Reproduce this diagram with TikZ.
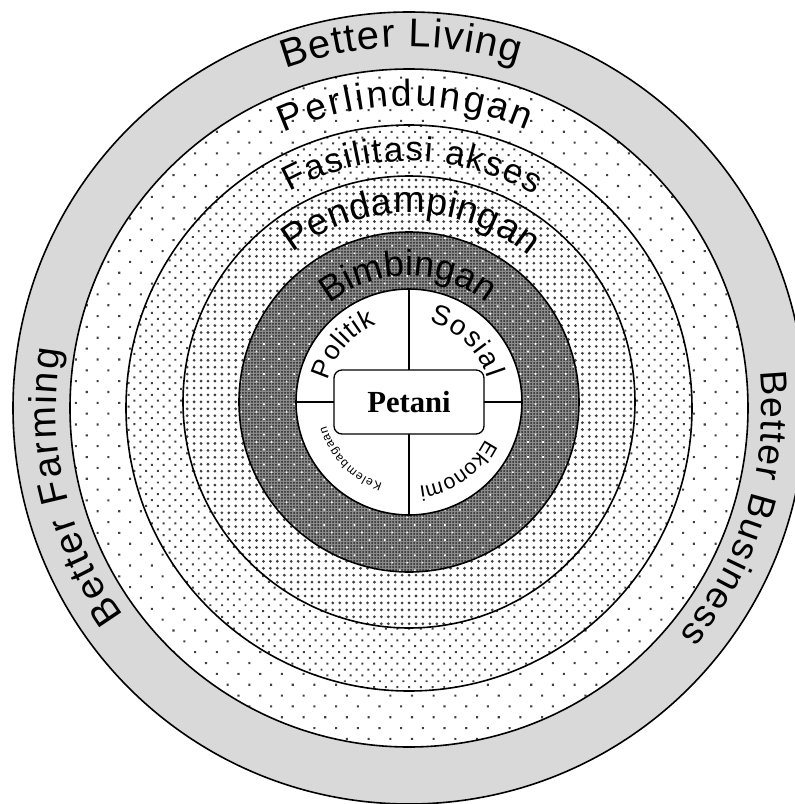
\documentclass[tikz,border=0pt]{standalone}
\usepackage{fontspec}
\setmainfont{Liberation Sans}
\newfontfamily\petanifont{Liberation Serif}
\usetikzlibrary{decorations.text,patterns.meta}

% text bent along a clockwise arc: centre, radius, from, to, size, text
\newcommand{\arctext}[6]{%
  \path[decorate,decoration={text along path,text align=fit to path,
      text={|\fontsize{#5}{#5}\selectfont|#6}}]
    (#1) ++(#3:#2) arc[start angle=#3,end angle=#4,radius=#2];}

\begin{document}
\begin{tikzpicture}[x=0.75pt,y=0.75pt,
    rim/.style={line width=1.2pt},
    split/.style={line width=0.8pt},
    box/.style={draw,line width=1pt,rounded corners=6pt,fill=white,
      minimum width=112.5pt,minimum height=48pt,
      font=\petanifont\bfseries\fontsize{23}{23}\selectfont}]
  \clip (-409,-396) rectangle (386,408);
  \coordinate (O) at (0,0);   % centre of the three outer rings
  \coordinate (ci) at (0,6);  % centre of the inner rings
  % rings, from outside in
  \fill[black!15] (O) circle[radius=396];
  \fill[white] (O) circle[radius=339];
  \fill[pattern={Dots[angle=45,distance=11.5pt,radius=1.1pt]},pattern color=black!75]
    (O) circle[radius=339];
  \fill[white] (O) circle[radius=283];
  \fill[pattern={Dots[angle=45,distance=6.2pt,radius=1.05pt]},pattern color=black!75]
    (O) circle[radius=283];
  \fill[white] (ci) circle[radius=226];
  \fill[pattern={Dots[distance=5.2pt,radius=1.15pt]},pattern color=black!75]
    (ci) circle[radius=226];
  \fill[black!45] (ci) circle[radius=170];
  \fill[pattern={Dots[distance=2.25pt,radius=0.75pt]},pattern color=black!85]
    (ci) circle[radius=170];
  \fill[pattern={Dots[angle=45,distance=8pt,radius=0.9pt]},pattern color=white]
    (ci) circle[radius=170];
  \fill[white] (ci) circle[radius=113];
  % four sectors round the farmer
  \draw[split] (ci) ++(-113,0) -- ++(226,0);
  \draw[split] (ci) ++(0,113) -- ++(0,-226);
  \node[box] (petani) at (ci) {Petani};
  \draw[rim] (O) circle[radius=396] (O) circle[radius=339] (O) circle[radius=283]
    (ci) circle[radius=226] (ci) circle[radius=170] (ci) circle[radius=113];
  % labels
  \arctext{O}{361}{110}{72.5}{30}{Better Living}
  \arctext{O}{353}{216}{170.5}{29}{Better Farming}
  \arctext{O}{353}{6}{-40}{28}{Better Business}
  \arctext{O}{302}{114.5}{67}{28}{Perlindungan}
  \arctext{O}{247}{119}{59.5}{26}{Fasilitasi akses}
  \arctext{ci}{189}{128}{50.5}{28}{Pendampingan}
  \arctext{ci}{126}{129}{53}{27}{Bimbingan}
  \arctext{ci}{84}{165}{113}{20}{Politik}
  \arctext{ci}{82}{76}{17}{21}{Sosial}
  \arctext{ci}{85}{-26}{-83}{16}{Ekonomi}
  \arctext{ci}{86}{252}{196}{9}{Kelembagaan}
\end{tikzpicture}
\end{document}
